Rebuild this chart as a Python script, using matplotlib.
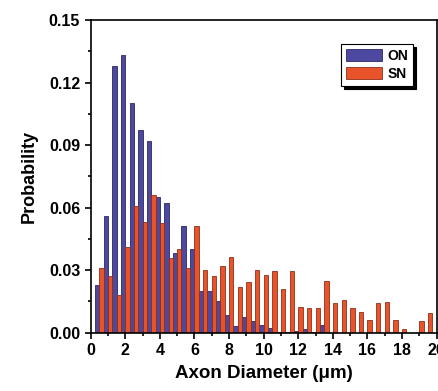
"""
Axon diameter distribution, ON vs SN
"""
import matplotlib.pyplot as plt
import numpy as np

plt.rcParams['font.family'] = ['Liberation Sans', 'DejaVu Sans']
plt.rcParams['font.weight'] = 'bold'

# bin centres are 0.5 um apart (0.5, 1.0, ... 19.5)
bin_centers = np.arange(1, 40) * 0.5

on_prob = [0.023, 0.056, 0.128, 0.133, 0.110, 0.097, 0.092, 0.065, 0.062, 0.038,
           0.051, 0.040, 0.020, 0.020, 0.015, 0.0085, 0.003, 0.0075, 0.0055, 0.0035,
           0.0025, 0.0005, 0.0005, 0.001, 0.002, 0.0005, 0.0035, 0.0, 0.0, 0.0,
           0.0, 0.0, 0.0, 0.0, 0.0, 0.0, 0.0, 0.0, 0.0]
sn_prob = [0.031, 0.027, 0.018, 0.041, 0.061, 0.053, 0.066, 0.0525, 0.036, 0.040,
           0.031, 0.051, 0.030, 0.027, 0.032, 0.0365, 0.022, 0.0245, 0.030, 0.0275,
           0.0297, 0.021, 0.0297, 0.0125, 0.012, 0.012, 0.025, 0.0144, 0.0155, 0.0118,
           0.0098, 0.006, 0.0142, 0.0148, 0.006, 0.0017, 0.0, 0.0054, 0.0097]

x_ticks = [0, 2, 4, 6, 8, 10, 12, 14, 16, 18, 20]
y_ticks = [0.00, 0.03, 0.06, 0.09, 0.12, 0.15]

fig = plt.figure(figsize=(4.38, 3.91), dpi=100)
ax = fig.add_axes([0.207, 0.149, 0.790, 0.800])

w = 0.25
ax.bar(bin_centers - w / 2, on_prob, width=w, color='#4d48a0',
       edgecolor='#2a2860', linewidth=0.6, label='ON')
ax.bar(bin_centers + w / 2, sn_prob, width=w, color='#e8532a',
       edgecolor='#8a3018', linewidth=0.6, label='SN')

ax.set_xlim(0, 20)
ax.set_ylim(0, 0.15)
ax.set_xticks(x_ticks)
ax.set_xticks(np.arange(1, 20, 2), minor=True)
ax.set_yticks(y_ticks)
ax.set_yticks(np.arange(0.015, 0.15, 0.03), minor=True)
ax.set_yticklabels(['%.2f' % v for v in y_ticks])
ax.tick_params(which='major', direction='out', length=4, width=1.2, labelsize=11.5)
ax.tick_params(which='minor', direction='out', length=2.5, width=1.2)
for s in ax.spines.values():
    s.set_linewidth(1.2)

ax.set_xlabel('Axon Diameter (\u03bcm)', fontsize=13.5, fontweight='bold', labelpad=5)
ax.set_ylabel('Probability', fontsize=13, fontweight='bold', labelpad=8)

leg = ax.legend(loc='upper right', bbox_to_anchor=(0.932, 0.923), fancybox=False,
                edgecolor='black', framealpha=1, shadow={'color': 'black', 'alpha': 1},
                handlelength=2.6, handleheight=0.9, handletextpad=0.4,
                borderpad=0.35, labelspacing=0.3, borderaxespad=0,
                prop={'size': 10, 'weight': 'bold'})
leg.get_frame().set_linewidth(0.8)

plt.savefig('out.png', dpi=100)
